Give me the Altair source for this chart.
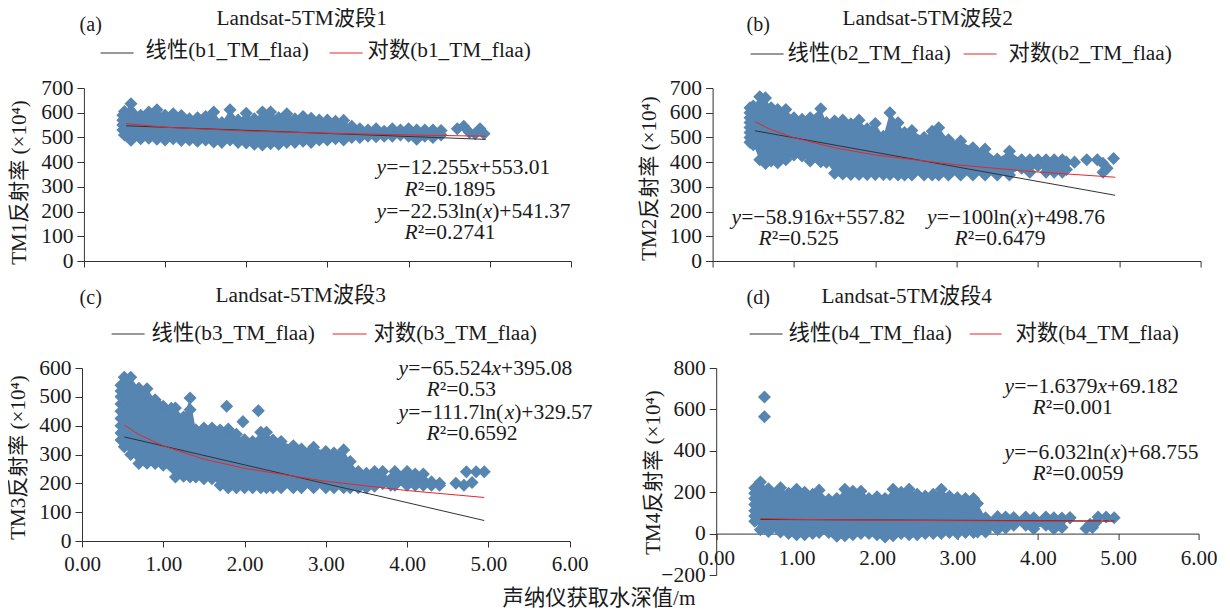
import altair as alt
import pandas as pd

FONT = "Liberation Serif, Noto Sans CJK SC"
BLUE = "#5585B0"
INK = "#1a1a1a"

# ---- values ----
A_X = [.5,.58,.7,.8,.9,1.0,1.1,1.2,1.3,1.4,1.5,1.6,1.7,1.8,1.9,2.0,2.1,2.2,2.3,2.4,2.5,2.6,2.7,2.8,2.9,3.0,3.1,3.2,3.3,3.4,3.5,3.6,3.7,3.8,3.9,4.0,4.1,4.2,4.3,4.4]
A_HI = [605,636,590,603,612,590,596,589,575,580,585,603,560,612,570,598,575,603,603,580,596,575,585,578,570,570,565,569,545,535,530,535,525,535,530,535,530,530,530,528]
A_LO = [510,489,495,497,493,490,495,488,490,485,490,482,480,490,480,478,472,469,475,472,480,480,485,480,490,490,495,490,500,500,505,503,505,505,510,505,493,505,500,510]
A_EX_X = [.48,.48,.48,.48,4.6,4.68,4.75,4.82,4.88,4.93]
A_EX_Y = [530,550,570,590,535,545,520,515,535,515]
A_LIN_X = [.52,4.95]
A_LIN_Y = [547,492]
A_LOG_X = [.52,1,2,3,4,4.95]
A_LOG_Y = [556,541,526,517,510,505]

B_X = [.46,.5,.58,.65,.72,.8,.9,1.0,1.1,1.2,1.33,1.4,1.5,1.6,1.7,1.8,1.9,2.0,2.1,2.18,2.28,2.36,2.45,2.6,2.7,2.78,2.9,3.05,3.2,3.35,3.5,3.65,3.8,3.9,4.0,4.1,4.2,4.3,4.35]
B_HI = [620,627,665,660,620,613,613,580,573,580,616,560,566,570,555,570,535,556,505,600,559,520,528,500,525,539,491,485,458,453,413,444,410,410,410,410,410,410,400]
B_LO = [480,470,410,395,405,398,410,429,425,405,402,400,355,352,350,350,350,350,350,350,348,348,348,348,348,348,348,348,348,348,348,348,375,359,385,359,359,359,370]
B_EX_X = [.46,.46,.46,.46,.46,.46,4.45,4.6,4.73,4.8,4.8,4.85,4.93]
B_EX_Y = [500,520,540,560,580,600,400,410,410,359,395,375,415]
B_LIN_X = [.52,4.95]
B_LIN_Y = [527,266]
B_LOG_X = [.52,.7,1,1.5,2,3,4,4.95]
B_LOG_Y = [564,534,499,458,429,389,360,339]

C_X = [.48,.52,.6,.7,.8,.9,1.0,1.15,1.25,1.33,1.4,1.5,1.6,1.7,1.8,1.9,2.0,2.1,2.2,2.27,2.35,2.45,2.6,2.7,2.85,3.0,3.1,3.22,3.3,3.4,3.5,3.6,3.7,3.8,3.85,4.0,4.1,4.2,4.3,4.4]
C_HI = [540,568,568,530,528,490,467,461,430,496,386,392,392,385,386,370,351,345,377,377,350,345,330,319,325,310,305,316,276,241,235,241,241,215,241,241,232,232,205,200]
C_LO = [350,327,300,269,270,269,263,222,225,222,222,216,216,193,185,185,185,185,185,185,185,185,185,185,185,185,185,185,185,185,185,190,199,193,193,193,193,193,193,193]
C_EX_X = [.48,.48,.48,.48,.48,.48,.48,.95,1.1,1.33,1.78,1.8,1.98,2.17,4.6,4.7,4.73,4.8,4.85,4.95]
C_EX_Y = [375,400,425,450,475,500,520,470,460,455,467,388,414,452,200,193,240,203,240,240]
C_LIN_X = [.52,4.95]
C_LIN_Y = [361,71]
C_LOG_X = [.52,.7,1,1.5,2,3,4,4.95]
C_LOG_Y = [402,369,330,284,252,207,175,151]

D_X = [.48,.55,.65,.8,.9,1.0,1.1,1.2,1.28,1.4,1.5,1.6,1.7,1.8,1.9,2.0,2.1,2.2,2.3,2.4,2.5,2.6,2.7,2.8,2.9,3.0,3.1,3.2,3.25,3.35,3.5,3.6,3.7,3.85,3.95,4.1,4.2,4.3,4.4]
D_HI = [220,249,217,222,195,214,200,190,210,165,170,214,205,180,170,178,170,214,200,214,190,181,190,214,180,173,170,170,145,77,82,80,78,80,77,80,77,75,77]
D_LO = [60,19,10,8,0,-5,-5,0,5,5,-13,-10,-5,0,0,-5,-16,-10,0,-5,-5,0,0,0,5,0,5,5,8,8,20,27,40,40,23,40,23,30,77]
D_EX_X = [.48,.48,.48,.48,.48,.6,.6,1.8,4.6,4.65,4.68,4.72,4.75,4.85,4.95]
D_EX_Y = [85,110,140,170,195,660,565,205,25,45,30,53,80,80,77]
D_LIN_X = [.55,4.95]
D_LIN_Y = [68.3,61]
D_LOG_X = [.55,1,2,3,4,4.95]
D_LOG_Y = [72.4,68.8,64.6,62.1,60.4,59.1]

# Times glyph widths (em) used to place italic and upright pieces next to each other
WIDTHS = {"y": .444, "x": .444, "R": .611, "=": .564, "−": .564, "+": .564, ".": .25,
          "l": .278, "n": .5, "(": .333, ")": .333, "²": .3}


def rich(ox, oy, px, py, segs, size=21.5):
    out = []
    cur = px
    for txt, italic in segs:
        out.append(alt.Chart(pd.DataFrame({"t": [txt]})).mark_text(
            font=FONT, fontSize=size, fontStyle="italic" if italic else "normal",
            color=INK, align="left", baseline="middle"
        ).encode(x=alt.value(cur - ox), y=alt.value(py - oy), text="t:N"))
        cur += sum(WIDTHS.get(c, .5) for c in txt) * size
    return out


def plain(ox, oy, px, py, txt, size=21.3):
    return [alt.Chart(pd.DataFrame({"t": [txt]})).mark_text(
        font=FONT, fontSize=size, color=INK, align="left", baseline="middle"
    ).encode(x=alt.value(px - ox), y=alt.value(py - oy), text="t:N")]


def swatch(ox, oy, x1, x2, py, colour):
    return [alt.Chart(pd.DataFrame({"a": [0]})).mark_rule(color=colour, strokeWidth=1).encode(
        x=alt.value(x1 - ox), x2=alt.value(x2 - ox), y=alt.value(py - oy))]


def panel(ox, oy, dx, w, h, ydom, yticks, xs, hi, lo, ex_x, ex_y, lin_x, lin_y, log_x, log_y,
          ytitle, ytitle_x, ytitle_y, xlabels, xaxis_offset, xpad, extra):
    xs_scale = alt.Scale(domain=[0, 6], range=[dx, dx + w], nice=False)
    ys_scale = alt.Scale(domain=ydom, nice=False)
    xax = alt.Axis(values=[0, 1, 2, 3, 4, 5, 6], labels=xlabels, format=".2f", title=None, grid=False,
                   offset=xaxis_offset, tickSize=6, labelFont=FONT, labelFontSize=21, labelColor=INK,
                   labelPadding=xpad, labelOverlap=False, domainColor="#333", tickColor="#333",
                   labelFlush=False, labelBound=False)
    yax = alt.Axis(values=yticks, title=ytitle, grid=False, tickSize=7, labelFont=FONT, labelFontSize=21.5,
                   labelColor=INK, labelPadding=4, offset=-dx, domainColor="#333", tickColor="#333",
                   titleFont=FONT, titleFontSize=21, titleFontWeight="normal", titleColor=INK,
                   titleX=ytitle_x, titleY=ytitle_y, titleBaseline="middle", labelOverlap=False)
    ex = alt.X("x:Q", scale=xs_scale, axis=xax)
    band = pd.DataFrame({"x": xs, "hi": hi, "lo": lo})
    pts = pd.DataFrame({"x": xs + xs + ex_x, "y": hi + lo + ex_y})
    ey = alt.Y("y:Q", scale=ys_scale, axis=yax)
    area = alt.Chart(band).mark_area(color=BLUE, opacity=1).encode(
        x=ex, y=alt.Y("lo:Q", scale=ys_scale, axis=yax), y2="hi:Q")
    dots = alt.Chart(pts).mark_point(shape="diamond", filled=True, size=170, color=BLUE, opacity=1).encode(x=ex, y=ey)
    lin = alt.Chart(pd.DataFrame({"x": lin_x, "y": lin_y})).mark_line(color="#333", strokeWidth=1).encode(x=ex, y=ey)
    log = alt.Chart(pd.DataFrame({"x": log_x, "y": log_y})).mark_line(color="#e8262a", strokeWidth=1).encode(x=ex, y=ey)
    return alt.layer(area, dots, lin, log, *extra).properties(width=490, height=h)


def eq_lin(ox, oy, px, py, a, b):
    return rich(ox, oy, px, py, [("y", True), ("=−" + a, False), ("x", True), ("+" + b, False)])


def eq_log(ox, oy, px, py, a, b):
    return rich(ox, oy, px, py, [("y", True), ("=−" + a + "ln(", False), ("x", True), (")+" + b, False)])


def r2(ox, oy, px, py, v):
    return rich(ox, oy, px, py, [("R", True), ("²=" + v, False)])


# panel a
ox, oy = 82.4, 87
a_extra = (plain(ox, oy, 217, 18, "Landsat-5TM波段1") + plain(ox, oy, 80, 24, "(a)", 20)
           + swatch(ox, oy, 101, 134, 52, "#333") + plain(ox, oy, 146, 50, "线性(b1_TM_flaa)")
           + swatch(ox, oy, 330, 363, 52, "#e8262a") + plain(ox, oy, 368, 50, "对数(b1_TM_flaa)")
           + eq_lin(ox, oy, 377, 167, "12.255", "553.01") + r2(ox, oy, 405, 189, "0.1895")
           + eq_log(ox, oy, 377, 211, "22.53", "541.37") + r2(ox, oy, 405, 232, "0.2741"))
pa = panel(ox, oy, 1.9, 487, 173, [0, 700], list(range(0, 701, 100)), A_X, A_HI, A_LO, A_EX_X, A_EX_Y,
           A_LIN_X, A_LIN_Y, A_LOG_X, A_LOG_Y, "TM1反射率 (×10⁴)", -64, 94, False, 0, 6, a_extra)

# panel b
ox, oy = 713, 87
b_extra = (plain(ox, oy, 843, 18, "Landsat-5TM波段2") + plain(ox, oy, 747, 24, "(b)", 20)
           + swatch(ox, oy, 751, 784, 53, "#333") + plain(ox, oy, 788, 53, "线性(b2_TM_flaa)")
           + swatch(ox, oy, 964, 997, 53, "#e8262a") + plain(ox, oy, 1009, 53, "对数(b2_TM_flaa)")
           + eq_lin(ox, oy, 732, 217, "58.916", "557.82") + r2(ox, oy, 759, 238, "0.525")
           + eq_log(ox, oy, 927.5, 217, "100", "498.76") + r2(ox, oy, 955, 238, "0.6479"))
pb = panel(ox, oy, 0, 488, 173, [0, 700], list(range(0, 701, 100)), B_X, B_HI, B_LO, B_EX_X, B_EX_Y,
           B_LIN_X, B_LIN_Y, B_LOG_X, B_LOG_Y, "TM2反射率 (×10⁴)", -63, 90, False, 0, 6, b_extra)

# panel c
ox, oy = 82.4, 367
c_extra = (plain(ox, oy, 216, 295, "Landsat-5TM波段3") + plain(ox, oy, 80, 297, "(c)", 20)
           + swatch(ox, oy, 112, 145, 333, "#333") + plain(ox, oy, 152, 333, "线性(b3_TM_flaa)")
           + swatch(ox, oy, 333, 367, 333, "#e8262a") + plain(ox, oy, 374, 333, "对数(b3_TM_flaa)")
           + eq_lin(ox, oy, 399, 368, "65.524", "395.08") + r2(ox, oy, 427, 389, "0.53")
           + eq_log(ox, oy, 399, 412, "111.7", "329.57") + r2(ox, oy, 427, 433, "0.6592")
           + plain(ox, oy, 503, 598, "声纳仪获取水深值/m"))
pc = panel(ox, oy, 0, 487.6, 173, [0, 600], list(range(0, 601, 100)), C_X, C_HI, C_LO, C_EX_X, C_EX_Y,
           C_LIN_X, C_LIN_Y, C_LOG_X, C_LOG_Y, "TM3反射率 (×10⁴)", -64, 89, True, 0, 6, c_extra)

# panel d
ox, oy = 713, 367
d_extra = (plain(ox, oy, 822, 296, "Landsat-5TM波段4") + plain(ox, oy, 747, 297, "(d)", 20)
           + swatch(ox, oy, 750, 783, 333, "#333") + plain(ox, oy, 789, 333, "线性(b4_TM_flaa)")
           + swatch(ox, oy, 970, 1002, 333, "#e8262a") + plain(ox, oy, 1016, 333, "对数(b4_TM_flaa)")
           + eq_lin(ox, oy, 1005, 386, "1.6379", "69.182") + r2(ox, oy, 1033, 407, "0.001")
           + eq_log(ox, oy, 1005, 452, "6.032", "68.755") + r2(ox, oy, 1033, 473, "0.0059"))
pd_ = panel(ox, oy, 3.6, 482.4, 207, [-200, 800], list(range(-200, 801, 200)), D_X, D_HI, D_LO, D_EX_X, D_EX_Y,
            D_LIN_X, D_LIN_Y, D_LOG_X, D_LOG_Y, "TM4反射率 (×10⁴)", -63, 104, True, -41.4, 8, d_extra)

chart = alt.concat(pa, pb, pc, pd_, columns=2, spacing={"row": 107, "column": 140.6}, bounds="flush").resolve_scale(
    x="independent", y="independent"
).properties(padding={"left": -2, "top": 0, "right": 0, "bottom": 0}, background="white").configure_view(stroke=None)

chart.save("out.html", embed_options={"renderer": "svg", "actions": False})
